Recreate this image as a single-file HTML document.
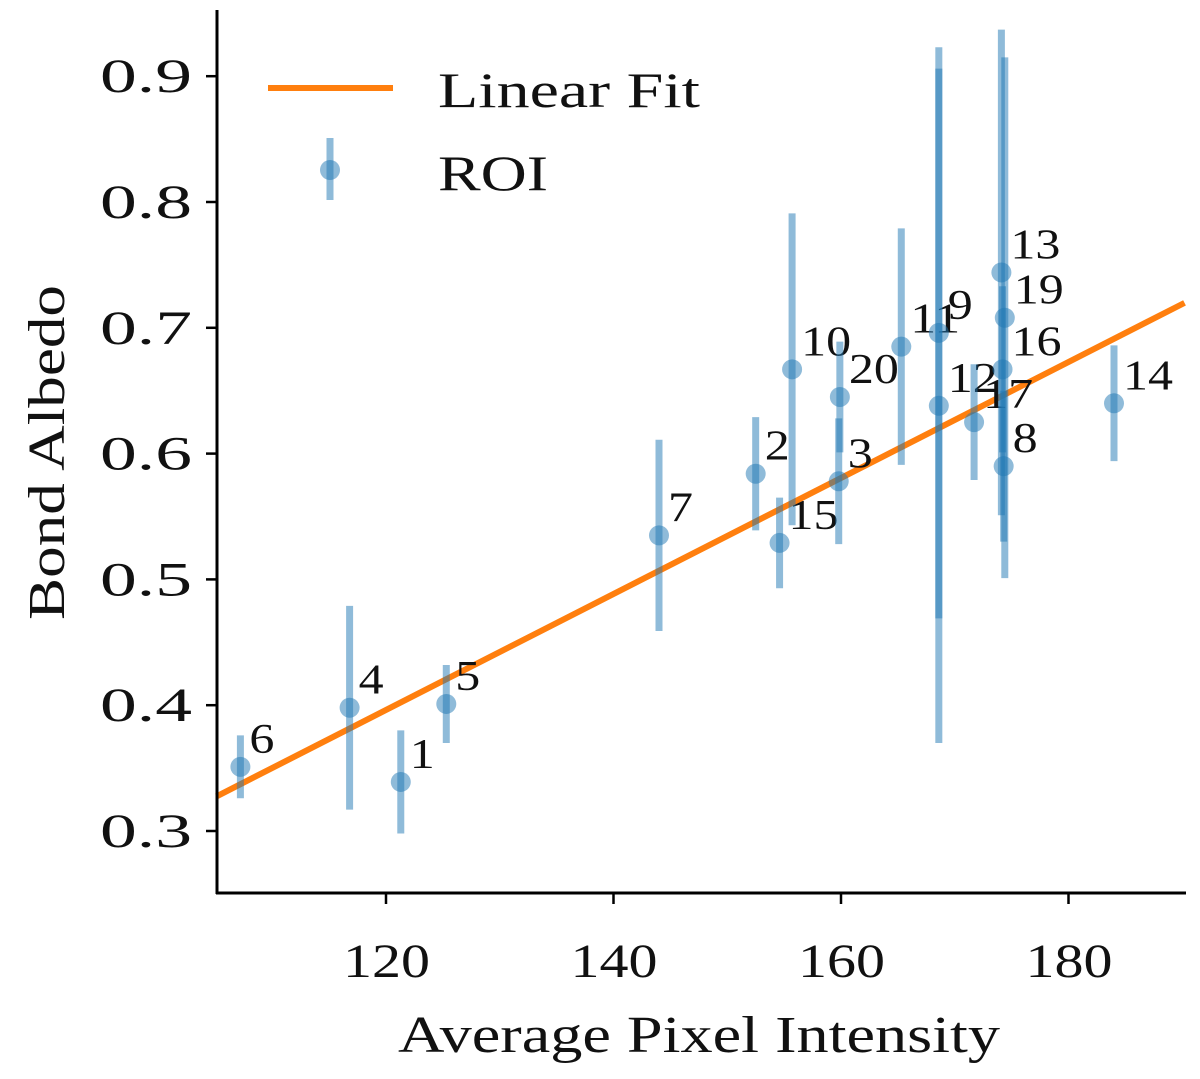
<!DOCTYPE html>
<html><head><meta charset="utf-8"><style>
html,body{margin:0;padding:0;background:#fff}
svg text{font-family:"Liberation Serif","DejaVu Serif",serif;fill:#111}
</style></head><body>
<svg id="chart" width="1200" height="1074" viewBox="0 0 1200 1074" xmlns="http://www.w3.org/2000/svg">
<g id="marks"></g>
<g id="axes"></g>
</svg>
<script>
const labels=["6","4","1","5","7","2","15","10","20","3","11","9","12","17","13","19","16","8","14"];
const xVals=[107.2,116.8,121.3,125.3,144.0,152.5,154.6,155.7,159.9,159.8,165.3,168.6,168.6,171.7,174.1,174.4,174.2,174.3,184.0];
const yVals=[0.351,0.398,0.339,0.401,0.535,0.584,0.529,0.667,0.645,0.578,0.685,0.696,0.638,0.625,0.744,0.708,0.667,0.590,0.640];
const yErr=[0.025,0.081,0.041,0.031,0.076,0.045,0.036,0.124,0.044,0.050,0.094,0.227,0.268,0.046,0.193,0.207,0.066,0.06,0.046];
const xTicks=[120,140,160,180];
const yTicks=[0.3,0.4,0.5,0.6,0.7,0.8,0.9];
const fitSlope=0.00461, fitIntercept=-0.157;
const xMin=105.1,xMax=190.2;

const NS="http://www.w3.org/2000/svg";
const X=v=>386+(v-120)*11.375;
const Y=v=>831-(v-0.3)*1258;
function mk(tag,attrs,parent){const e=document.createElementNS(NS,tag);for(const k in attrs)e.setAttribute(k,attrs[k]);parent.appendChild(e);return e;}
const marks=document.getElementById('marks'),axes=document.getElementById('axes');

const fit=mk('line',{x1:X(xMin),y1:Y(fitIntercept+fitSlope*xMin),x2:X(xMax),y2:Y(fitIntercept+fitSlope*xMax),stroke:'#ff7f0e','stroke-width':6},marks);



for(let i=0;i<labels.length;i++){
  const g=mk('g',{},marks);
  
  
  mk('line',{x1:X(xVals[i]),x2:X(xVals[i]),y1:Y(yVals[i]-yErr[i]),y2:Y(yVals[i]+yErr[i]),stroke:'#1f77b4','stroke-width':7,'stroke-opacity':0.5},g);
  mk('circle',{cx:X(xVals[i]),cy:Y(yVals[i]),r:10,fill:'#1f77b4','fill-opacity':0.5},g);
  const t=mk('text',{x:X(xVals[i])+9,y:Y(yVals[i])-14,'font-size':42,textLength:25*labels[i].length,lengthAdjust:'spacingAndGlyphs'},g);
  t.textContent=labels[i];
  
  
}

const ls=mk('line',{x1:217,y1:10,x2:217,y2:894,stroke:'#000','stroke-width':3},axes);

const bs=mk('line',{x1:216,y1:893,x2:1186,y2:893,stroke:'#000','stroke-width':3},axes);

xTicks.forEach(v=>{
  mk('line',{x1:X(v),x2:X(v),y1:893,y2:904,stroke:'#000','stroke-width':2.5},axes);
  const t=mk('text',{x:X(v)-43,y:977,'font-size':48,textLength:87,lengthAdjust:'spacingAndGlyphs'},axes);t.textContent=v;
  
});
yTicks.forEach(v=>{
  mk('line',{x1:206,x2:217,y1:Y(v),y2:Y(v),stroke:'#000','stroke-width':2.5},axes);
  const t=mk('text',{x:100,y:Y(v)+16,'font-size':48,textLength:92,lengthAdjust:'spacingAndGlyphs'},axes);t.textContent=v.toFixed(1);
  
});
const xl=mk('text',{x:398,y:1052,'font-size':52,textLength:602,lengthAdjust:'spacingAndGlyphs'},axes);xl.textContent='Average Pixel Intensity';

const yl=mk('text',{x:0,y:0,'font-size':52,textLength:335,lengthAdjust:'spacingAndGlyphs',transform:'translate(64,620) rotate(-90)'},axes);yl.textContent='Bond Albedo';


const lg=mk('g',{},axes);

mk('line',{x1:268,x2:393,y1:88,y2:88,stroke:'#ff7f0e','stroke-width':6},lg);
const l1=mk('text',{x:438,y:107,'font-size':50,textLength:262,lengthAdjust:'spacingAndGlyphs'},lg);l1.textContent='Linear Fit';

mk('line',{x1:330,x2:330,y1:138,y2:200,stroke:'#1f77b4','stroke-width':7,'stroke-opacity':0.5},lg);
mk('circle',{cx:330,cy:170,r:10,fill:'#1f77b4','fill-opacity':0.5},lg);
const l2=mk('text',{x:438,y:190,'font-size':50,textLength:110,lengthAdjust:'spacingAndGlyphs'},lg);l2.textContent='ROI';

</script>
</body></html>
